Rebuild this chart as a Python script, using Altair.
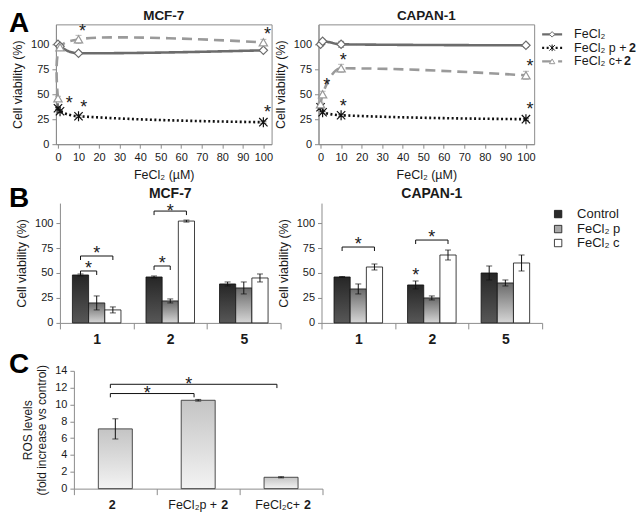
import altair as alt
import pandas as pd

FONT = "Liberation Sans, Arial, sans-serif"
TXT = "#1a1a1a"

# ---------------- Panel A data ----------------
CONC = [0, 1, 10, 100]
SERIES_A = ["FeCl2", "FeCl2 p + 2", "FeCl2 c+ 2"]
mcf_fe = [100, 98, 91, 94]
mcf_fe_err = [1, 1, 1, 1]
mcf_p2 = [36, 33, 28, 22]
mcf_p2_err = [1, 1, 1, 1]
mcf_c2 = [46, 97, 105, 102]
mcf_c2_err = [2, 2, 4, 3]
cap_fe = [100, 103, 100, 99]
cap_fe_err = [2, 2, 3, 2]
cap_p2 = [37, 32, 29, 25]
cap_p2_err = [1, 1, 1, 1]
cap_c2 = [40, 50, 76, 69]
cap_c2_err = [2, 3, 4, 4]
mcf_star_x = [5.5, 12.5, 12, 102, 102]
mcf_star_y = [45, 41, 117, 114, 36]
cap_star_x = [3, 11, 102, 11, 102]
cap_star_y = [63, 88, 82, 42, 39]
A_TICKS_X = list(range(0, 101, 10))
A_TICKS_Y = [0, 25, 50, 75, 100]

# ---------------- Panel B data ----------------
DOSES = ["1", "2", "5"]
SERIES_B = ["Control", "FeCl2 p", "FeCl2 c"]
mcf_ctrl = [48, 46, 39]
mcf_ctrl_err = [1, 1, 2]
mcf_p = [20, 22, 35]
mcf_p_err = [7, 2, 6]
mcf_c = [13, 102, 45]
mcf_c_err = [3, 1, 4]
cap_ctrl = [46, 38, 50]
cap_ctrl_err = [0.5, 4, 7]
cap_p = [34, 25, 40]
cap_p_err = [5, 2, 3]
cap_c = [56, 68, 60]
cap_c_err = [3, 5, 8]
# brackets: (dose index, series a, series b, height)
mcf_brackets = [(0, 0, 1, 52), (0, 0, 2, 67), (1, 0, 1, 57), (1, 0, 2, 112)]
cap_brackets = [(0, 0, 2, 76), (1, 0, 2, 83)]
cap_single_star = [(1, 0, 52)]

# ---------------- Panel C data ----------------
C_CATS = ["2", "FeCl2p + 2", "FeCl2c+ 2"]
ros = [7.1, 10.5, 1.35]
ros_err = [1.2, 0.1, 0.07]
c_brackets = [(0, 1, 11.3), (0, 2, 12.4)]
C_TICKS_Y = list(range(0, 15, 2))

STAR_PATH = "M-1,-1L1,1M-1,1L1,-1M0,-1.2L0,1.2"
NO_FRAME = alt.ViewBackground(stroke="transparent", strokeWidth=0)


def axis(**kw):
    base = dict(labelFont=FONT, titleFont=FONT, labelColor=TXT, titleColor=TXT,
                domainColor="#8c8c8c", tickColor="#8c8c8c", grid=False,
                labelFontSize=11, titleFontSize=12.5, titleFontWeight="normal",
                tickSize=4, labelPadding=3)
    base.update(kw)
    return alt.Axis(**base)


def letter_layer(ch, lx, ly):
    return alt.Chart(pd.DataFrame({"t": [ch]})).mark_text(
        font=FONT, fontSize=28, fontWeight="bold", align="left", baseline="top", color="black"
    ).encode(text="t:N", x=alt.value(lx), y=alt.value(ly))


def title_layer(name, width, fs, dy=-5):
    return alt.Chart(pd.DataFrame({"t": [name]})).mark_text(
        font=FONT, fontSize=fs, fontWeight="bold", align="center", baseline="alphabetic", color=TXT
    ).encode(text="t:N", x=alt.value(width / 2), y=alt.value(dy))


def star_text(dy=10):
    return dict(text="*", font=FONT, fontSize=18, color=TXT, baseline="alphabetic", dy=dy)


# ---------------- Panel A ----------------
def line_panel(name, fe, fe_e, p2, p2_e, c2, c2_e, sx, sy, letter=None, width=216, smooth=()):
    rows = []
    for s, vals, errs in zip(SERIES_A, [fe, p2, c2], [fe_e, p2_e, c2_e]):
        for c, v, e in zip(CONC, vals, errs):
            rows.append(dict(series=s, conc=c, val=v, lo=v - e, hi=v + e))
    df = pd.DataFrame(rows)
    caps = pd.concat([df.assign(cv=df.lo), df.assign(cv=df.hi)])
    xsc = alt.Scale(domain=[-1, 104], nice=False, zero=False)
    ysc = alt.Scale(domain=[0, 120], nice=False)
    xax = axis(values=A_TICKS_X, title="FeCl₂ (µM)", titlePadding=6)
    yax = axis(values=A_TICKS_Y, title="Cell viability (%)", titlePadding=6)

    def X(f):
        return alt.X(f, type="quantitative", scale=xsc, axis=xax)

    def Y(f):
        return alt.Y(f, type="quantitative", scale=ysc, axis=yax)

    color = alt.Color("series:N", scale=alt.Scale(domain=SERIES_A, range=["#6c6c6c", "#111111", "#9a9a9a"]), legend=None)
    dash = alt.StrokeDash("series:N", scale=alt.Scale(domain=SERIES_A, range=[[1, 0], [2, 2.5], [10, 6]]), legend=None)
    shape = alt.Shape("series:N", scale=alt.Scale(domain=SERIES_A, range=["diamond", STAR_PATH, "triangle-up"]), legend=None)

    layers = []
    plain = df[~df.series.isin(smooth)]
    curved = df[df.series.isin(smooth)]
    layers.append(alt.Chart(plain).mark_line(interpolate="monotone", strokeWidth=2.6).encode(
        x=X("conc"), y=Y("val"), color=color, strokeDash=dash))
    if len(curved):
        layers.append(alt.Chart(curved).mark_line(interpolate="catmull-rom", strokeWidth=2.6).encode(
            x=X("conc"), y=Y("val"), color=color, strokeDash=dash))
    layers.append(alt.Chart(df).mark_rule(strokeWidth=1).encode(x=X("conc"), y=Y("lo"), y2="hi:Q", color=color))
    layers.append(alt.Chart(caps).mark_tick(orient="horizontal", size=6, thickness=1).encode(
        x=X("conc"), y=Y("cv"), color=color))
    layers.append(alt.Chart(df).mark_point(filled=False, fill="white", fillOpacity=1, strokeWidth=1.2, size=70).encode(
        x=X("conc"), y=Y("val"), color=color, shape=shape))
    layers.append(alt.Chart(pd.DataFrame({"x": sx, "y": sy})).mark_text(**star_text()).encode(x=X("x"), y=Y("y")))
    layers.append(title_layer(name, width, 13.5, -4))
    if letter:
        layers.append(letter_layer(letter, -47, -14))
    return alt.layer(*layers).properties(
        width=width, height=120,
        view=alt.ViewBackground(stroke="#8c8c8c", strokeWidth=1),
    )


def legend_a():
    W, H = 98, 120
    rows_y = [10, 23.5, 37]
    xs = alt.Scale(domain=[0, W], nice=False, zero=False)
    ys = alt.Scale(domain=[0, H], nice=False, reverse=True)
    ln = []
    for s, yy in zip(SERIES_A, rows_y):
        ln += [dict(series=s, xx=4, yy=yy), dict(series=s, xx=24, yy=yy)]
    ln = pd.DataFrame(ln)
    pt = pd.DataFrame(dict(series=SERIES_A, xx=[14] * 3, yy=rows_y))
    t1 = pd.DataFrame(dict(t=["FeCl₂", "FeCl₂ p +", "FeCl₂ c+"], xx=[36] * 3, yy=rows_y))
    t2 = pd.DataFrame(dict(t=["2", "2"], xx=[36 + 55, 36 + 50], yy=rows_y[1:]))
    color = alt.Color("series:N", scale=alt.Scale(domain=SERIES_A, range=["#6c6c6c", "#111111", "#9a9a9a"]), legend=None)
    dash = alt.StrokeDash("series:N", scale=alt.Scale(domain=SERIES_A, range=[[1, 0], [2, 2.5], [7, 5]]), legend=None)
    shape = alt.Shape("series:N", scale=alt.Scale(domain=SERIES_A, range=["diamond", STAR_PATH, "triangle-up"]), legend=None)
    X = alt.X("xx:Q", scale=xs, axis=None)
    Y = alt.Y("yy:Q", scale=ys, axis=None)
    l1 = alt.Chart(ln).mark_line(strokeWidth=2.2).encode(x=X, y=Y, color=color, strokeDash=dash)
    l2 = alt.Chart(pt).mark_point(filled=False, fill="white", fillOpacity=1, size=30, strokeWidth=1).encode(
        x=X, y=Y, color=color, shape=shape)
    l3 = alt.Chart(t1).mark_text(font=FONT, fontSize=12.5, align="left", baseline="middle", color=TXT).encode(
        x=X, y=Y, text="t:N")
    l4 = alt.Chart(t2).mark_text(font=FONT, fontSize=12.5, fontWeight="bold", align="left", baseline="middle",
                                 color=TXT).encode(x=X, y=Y, text="t:N")
    return alt.layer(l1, l2, l3, l4).properties(width=W, height=H, view=NO_FRAME)


# ---------------- Panel B ----------------
BW = 0.22


def grad(top, bottom):
    return alt.Gradient(gradient="linear", x1=0, x2=0, y1=0, y2=1,
                        stops=[alt.GradientStop(color=top, offset=0), alt.GradientStop(color=bottom, offset=1)])


FILLS_B = [grad("#262626", "#575757"), grad("#6a6a6a", "#d6d6d6"), "#ffffff"]


def xc_of(g, k):
    return g + 0.5 + (k - 1) * BW


def bar_panel(name, vals, errs, brackets, singles, letter=None):
    width = 221
    rows = []
    for k, s in enumerate(SERIES_B):
        for g, d in enumerate(DOSES):
            v, e = vals[k][g], errs[k][g]
            xc = xc_of(g, k)
            rows.append(dict(series=s, dose=d, xc=xc, x0=xc - BW / 2, x1=xc + BW / 2, val=v, lo=v - e, hi=v + e))
    df = pd.DataFrame(rows)
    caps = pd.concat([df.assign(cv=df.lo), df.assign(cv=df.hi)])
    xsc = alt.Scale(domain=[0, 3], nice=False, zero=False)
    ysc = alt.Scale(domain=[0, 120], nice=False)
    lab = " : ".join(f"datum.value == {g + 0.5} ? '{d}'" for g, d in enumerate(DOSES)) + " : ''"
    xax = axis(values=[0, 0.5, 1, 1.5, 2, 2.5, 3], labelExpr=lab, title=None, tickSize=6,
               tickOpacity={"condition": {"test": "datum.value % 1 !== 0", "value": 0}, "value": 1},
               labelFontSize=14, labelFontWeight="bold", labelPadding=4, labelOverlap=False, labelFlush=False)
    yax = axis(values=A_TICKS_Y, title="Cell viability (%)", titlePadding=6)

    def X(f):
        return alt.X(f, type="quantitative", scale=xsc, axis=xax)

    def Y(f):
        return alt.Y(f, type="quantitative", scale=ysc, axis=yax)

    layers = []
    for k, s in enumerate(SERIES_B):
        layers.append(alt.Chart(df[df.series == s]).mark_bar(fill=FILLS_B[k], stroke="#111", strokeWidth=0.8).encode(
            x=X("x0"), x2="x1:Q", y=Y("val"), y2=alt.datum(0)))
    layers.append(alt.Chart(df).mark_rule(color="#111", strokeWidth=1).encode(x=X("xc"), y=Y("lo"), y2="hi:Q"))
    layers.append(alt.Chart(caps).mark_tick(orient="horizontal", size=6, thickness=1, color="#111").encode(
        x=X("xc"), y=Y("cv")))
    segs, stars = [], []
    for g, a, b, h in brackets:
        xa, xb = xc_of(g, a), xc_of(g, b)
        segs += [dict(x1=xa, x2=xb, y1=h, y2=h), dict(x1=xa, x2=xa, y1=h, y2=h - 4), dict(x1=xb, x2=xb, y1=h, y2=h - 4)]
        stars.append(dict(x=(xa + xb) / 2, y=min(h + 7, 116)))
    for g, k, h in singles:
        stars.append(dict(x=xc_of(g, k), y=h))
    layers.append(alt.Chart(pd.DataFrame(segs)).mark_rule(color="#111", strokeWidth=1).encode(
        x=X("x1"), x2="x2:Q", y=Y("y1"), y2="y2:Q"))
    layers.append(alt.Chart(pd.DataFrame(stars)).mark_text(**star_text()).encode(x=X("x"), y=Y("y")))
    layers.append(title_layer(name, width, 14, -5))
    if letter:
        layers.append(letter_layer(letter, -51, -18))
    return alt.layer(*layers).properties(width=width, height=120, view=NO_FRAME)


def legend_b():
    W, H = 80, 120
    rows_y = [11, 26, 40]
    xs = alt.Scale(domain=[0, W], nice=False, zero=False)
    ys = alt.Scale(domain=[0, H], nice=False, reverse=True)
    X = alt.X("xx:Q", scale=xs, axis=None)
    Y = alt.Y("yy:Q", scale=ys, axis=None)
    sq = pd.DataFrame(dict(series=SERIES_B, xx=[6] * 3, yy=rows_y))
    tx = pd.DataFrame(dict(t=["Control", "FeCl₂ p", "FeCl₂ c"], xx=[25] * 3, yy=rows_y))
    l1 = alt.Chart(sq).mark_square(size=55, stroke="#111", strokeWidth=0.8, opacity=1).encode(
        x=X, y=Y, fill=alt.Fill("series:N", scale=alt.Scale(domain=SERIES_B, range=["#2a2a2a", "#a8a8a8", "#ffffff"]),
                                legend=None))
    l2 = alt.Chart(tx).mark_text(font=FONT, fontSize=13, align="left", baseline="middle", color=TXT).encode(
        x=X, y=Y, text="t:N")
    return alt.layer(l1, l2).properties(width=W, height=H, view=NO_FRAME)


# ---------------- Panel C ----------------
def ros_panel():
    df = pd.DataFrame(dict(cat=C_CATS, xc=[i + 0.5 for i in range(3)], val=ros,
                           lo=[v - e for v, e in zip(ros, ros_err)], hi=[v + e for v, e in zip(ros, ros_err)]))
    df["x0"] = df.xc - 0.205
    df["x1"] = df.xc + 0.205
    caps = pd.concat([df.assign(cv=df.lo), df.assign(cv=df.hi)])
    xsc = alt.Scale(domain=[0, 3], nice=False, zero=False)
    ysc = alt.Scale(domain=[0, 14], nice=False)
    xax = axis(values=[0, 1, 2, 3], labels=False, title=None, tickSize=6)
    yax = axis(values=C_TICKS_Y, title=["ROS levels", "(fold increase vs control)"], titlePadding=6, titleFontSize=12)

    def X(f):
        return alt.X(f, type="quantitative", scale=xsc, axis=xax)

    def Y(f):
        return alt.Y(f, type="quantitative", scale=ysc, axis=yax)

    bars = alt.Chart(df).mark_bar(fill=grad("#c4c4c4", "#f3f3f3"), stroke="#3a3a3a", strokeWidth=0.9).encode(
        x=X("x0"), x2="x1:Q", y=Y("val"), y2=alt.datum(0))
    eb = alt.Chart(df).mark_rule(color="#111", strokeWidth=1).encode(x=X("xc"), y=Y("lo"), y2="hi:Q")
    ec = alt.Chart(caps).mark_tick(orient="horizontal", size=6, thickness=1, color="#111").encode(x=X("xc"), y=Y("cv"))
    segs, stars = [], []
    for a, b, h in c_brackets:
        xa, xb = a + 0.5 - 0.06, b + 0.5 - 0.05
        segs += [dict(x1=xa, x2=xb, y1=h, y2=h), dict(x1=xa, x2=xa, y1=h, y2=h - 0.45),
                 dict(x1=xb, x2=xb, y1=h, y2=h - 0.45)]
        stars.append(dict(x=(xa + xb) / 2 - 0.06, y=h + 0.55))
    br = alt.Chart(pd.DataFrame(segs)).mark_rule(color="#111", strokeWidth=1).encode(
        x=X("x1"), x2="x2:Q", y=Y("y1"), y2="y2:Q")
    st = alt.Chart(pd.DataFrame(stars)).mark_text(**star_text()).encode(x=X("x"), y=Y("y"))
    # category labels with bold compound number
    lab_norm = pd.DataFrame(dict(t=["FeCl₂p +", "FeCl₂c+"], x=[1.5, 2.5], y=[0, 0]))
    lab_bold = pd.DataFrame(dict(t=["2", "2", "2"], x=[0.5, 1.5, 2.5], y=[0, 0, 0]))
    ln = alt.Chart(lab_norm).mark_text(font=FONT, fontSize=12.5, align="right", baseline="top", dy=10, dx=19,
                                       color=TXT).encode(x=X("x"), y=Y("y"), text="t:N")
    lb = alt.Chart(lab_bold.iloc[1:]).mark_text(font=FONT, fontSize=12.5, fontWeight="bold", align="left",
                                                baseline="top", dy=10, dx=23, color=TXT).encode(
        x=X("x"), y=Y("y"), text="t:N")
    lb0 = alt.Chart(lab_bold.iloc[:1]).mark_text(font=FONT, fontSize=12.5, fontWeight="bold", align="center",
                                                 baseline="top", dy=10, dx=-3, color=TXT).encode(
        x=X("x"), y=Y("y"), text="t:N")
    return alt.layer(bars, eb, ec, br, st, ln, lb, lb0, letter_layer("C", -65, -20)).properties(
        width=249, height=118, view=NO_FRAME)


def spacer(w, h=10):
    return alt.Chart(pd.DataFrame({"v": [0]})).mark_point(opacity=0).encode(
        x=alt.X("v:Q", axis=None), y=alt.Y("v:Q", axis=None)).properties(width=w, height=h, view=NO_FRAME)


row1 = alt.hconcat(
    line_panel("MCF-7", mcf_fe, mcf_fe_err, mcf_p2, mcf_p2_err, mcf_c2, mcf_c2_err, mcf_star_x, mcf_star_y,
               letter="A", smooth=(SERIES_A[2],)),
    spacer(47),
    line_panel("CAPAN-1", cap_fe, cap_fe_err, cap_p2, cap_p2_err, cap_c2, cap_c2_err, cap_star_x, cap_star_y),
    spacer(4),
    legend_a(),
    spacing=0, bounds="flush")

row2 = alt.hconcat(
    spacer(4),
    bar_panel("MCF-7", [mcf_ctrl, mcf_p, mcf_c], [mcf_ctrl_err, mcf_p_err, mcf_c_err], mcf_brackets, [], letter="B"),
    spacer(41),
    bar_panel("CAPAN-1", [cap_ctrl, cap_p, cap_c], [cap_ctrl_err, cap_p_err, cap_c_err], cap_brackets,
              cap_single_star),
    spacer(10),
    legend_b(),
    spacing=0, bounds="flush")

row3 = alt.hconcat(spacer(18), ros_panel(), spacing=0, bounds="flush")

chart = alt.vconcat(row1, row2, row3, spacing=4).properties(padding=0).configure_view(
    strokeWidth=0).configure(background="white")

chart.save("out.html", embed_options={"renderer": "svg", "actions": False})
